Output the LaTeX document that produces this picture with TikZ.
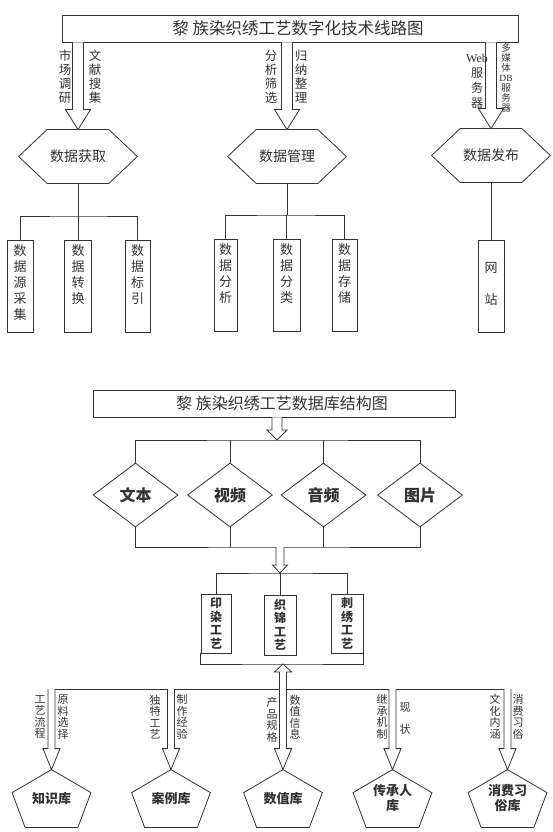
\documentclass[tikz,border=0pt]{standalone}
\usepackage{fontspec}
\setmainfont{Noto Sans CJK SC}
\newfontfamily\webfont{Liberation Serif}
\usetikzlibrary{shapes.geometric,calc}

\newcommand{\fatdown}[5]{%
  \draw[fill=white] let \p1=(#1), \p2=(#2) in
    (\x1-#3pt,\y1) -- (\x1-#3pt,{\y2+(#5)*1pt}) -- (\x1-#4pt,{\y2+(#5)*1pt})
    -- (\x2,\y2) -- (\x1+#4pt,{\y2+(#5)*1pt}) -- (\x1+#3pt,{\y2+(#5)*1pt})
    -- (\x1+#3pt,\y1);}
\newcommand{\coltext}[1]{\parbox[c][82pt][t]{14pt}{\centering #1}}

\begin{document}
\begin{tikzpicture}[x=1pt, y=-1pt, line width=0.8pt, color=black!80,
  titlebox/.style={draw, inner sep=0pt, minimum height=27pt, font=\fontsize{16.5}{18}\selectfont},
  hexnode/.style={inner sep=0pt, minimum width=118pt, minimum height=53pt, font=\fontsize{14}{16}\selectfont},
  colbox/.style={draw, inner sep=0pt, minimum height=92pt, font=\fontsize{13}{16}\selectfont},
  sidelabel/.style={align=center, inner sep=0pt, font=\fontsize{12.5}{14}\selectfont},
  medianode/.style={draw, diamond, aspect=1.33, inner sep=0pt, minimum width=85pt, minimum height=64pt, font=\bfseries\fontsize{16}{18}\selectfont},
  craftbox/.style={draw, align=center, inner sep=0pt, minimum height=59pt, font=\bfseries\fontsize{12}{13.5}\selectfont},
  pentnode/.style={align=center, inner sep=0pt, minimum width=78pt, minimum height=57pt, font=\bfseries\fontsize{13}{15}\selectfont},
  smalllabel/.style={align=center, inner sep=0pt, font=\fontsize{11}{11.5}\selectfont}]
  \fill[white] (0,0) rectangle (552,832);

  \node[titlebox, minimum width=456pt] (route) at (290,28.5) {\hspace*{16pt}黎 族染织绣工艺数字化技术线路图};
  \node[hexnode] (get) at (78,156.5) {数据获取};
  \node[hexnode] (manage) at (287,156.5) {数据管理};
  \node[hexnode] (publish) at (491,155.5) {数据发布};
  \foreach \h in {get,manage,publish}
    \draw (\h.west) -- ([xshift=28.5pt]\h.north west) -- ([xshift=-28.5pt]\h.north east)
      -- (\h.east) -- ([xshift=-28.5pt]\h.south east) -- ([xshift=28.5pt]\h.south west) -- cycle;
  \foreach \h in {get,manage,publish}
    \fatdown{route.south -| \h.north}{\h.north}{5.5}{12.5}{20};

  \node[sidelabel] (survey) at (65,77) {市\\场\\调\\研};
  \node[sidelabel] (literature) at (95,77) {文\\献\\搜\\集};
  \node[sidelabel] (screen) at (271,77) {分\\析\\筛\\选};
  \node[sidelabel] (induce) at (301,77) {归\\纳\\整\\理};
  \node[sidelabel, font=\fontsize{12}{15}\selectfont] (webserver) at (477,81) {{\webfont Web}\\服\\务\\器};
  \node[sidelabel, font=\fontsize{9.5}{10}\selectfont] (dbserver) at (506,78) {多\\媒\\体\\{\webfont DB}\\服\\务\\器};

  \node[colbox, minimum width=26pt] (collect) at (20,286) {\coltext{数\\据\\源\\采\\集}};
  \node[colbox, minimum width=27pt] (convert) at (78,286) {\coltext{数\\据\\转\\换}};
  \node[colbox, minimum width=25pt] (index) at (137.5,286) {\coltext{数\\据\\标\\引}};
  \node[colbox, minimum width=23pt] (analyse) at (225.5,285) {\coltext{数\\据\\分\\析}};
  \node[colbox, minimum width=27pt] (classify) at (286.5,285) {\coltext{数\\据\\分\\类}};
  \node[colbox, minimum width=25pt] (store) at (344.5,285) {\coltext{数\\据\\存\\储}};
  \node[colbox, minimum width=26pt] (website) at (491,286) {\coltext{\strut\\网\\\strut\\站}};

  \coordinate (getfork) at (78,216);
  \coordinate (managefork) at (287,215);
  \draw (get.south) -- (getfork);
  \draw (collect.north) |- (getfork) -| (index.north);
  \draw (convert.north) -- (convert.north |- getfork);
  \draw (manage.south) -- (managefork);
  \draw (analyse.north) |- (managefork) -| (store.north);
  \draw (classify.north) -- (classify.north |- managefork);
  \draw (publish.south) -- (website.north);

  \node[titlebox, minimum width=362pt, font=\fontsize{16}{18}\selectfont] (dbtitle) at (274,403.5) {\hspace*{16pt}黎 族染织绣工艺数据库结构图};
  \coordinate (mediafork) at (277,440);
  \node[medianode] (txt) at (135.5,495) {文本};
  \node[medianode] (video) at (230,495) {视频};
  \node[medianode] (audio) at (323.5,495) {音频};
  \node[medianode] (image) at (420,495) {图片};
  \draw (txt.north) |- (mediafork) -| (image.north);
  \foreach \m in {video,audio}
    \draw (\m.north) -- (\m.north |- mediafork);
  \fatdown{dbtitle.south -| mediafork}{mediafork}{5}{10}{10};
  \coordinate (mediajoin) at (280,547);
  \draw (txt.south) |- (mediajoin) -| (image.south);
  \foreach \m in {video,audio}
    \draw (\m.south) -- (\m.south |- mediajoin);
  \coordinate (craftfork) at (280,573);
  \fatdown{mediajoin}{craftfork}{4}{7.5}{8};

  \node[craftbox, minimum width=30pt] (printdye) at (216,623.5) {印\\染\\工\\艺};
  \node[craftbox, minimum width=32pt, minimum height=60pt] (brocade) at (280,625) {织\\锦\\工\\艺};
  \node[craftbox, minimum width=32pt] (embroider) at (347,623.5) {刺\\绣\\工\\艺};
  \draw (printdye.north) |- (craftfork) -| (embroider.north);
  \draw (brocade.north) -- (craftfork);
  \coordinate (craftjoin) at (283,664);
  \draw (printdye.south west) |- (craftjoin) -| (embroider.south east);

  \coordinate (lowbar) at (283,689);
  \node[pentnode] (knowledge) at (51.5,798.5) {知识库};
  \node[pentnode] (case) at (171,798.5) {案例库};
  \node[pentnode] (value) at (283,798.5) {数值库};
  \node[pentnode] (heritage) at (392.5,798.5) {传承人\\库};
  \node[pentnode] (custom) at (507.5,798.5) {消费习\\俗库};
  \foreach \pent in {knowledge,case,value,heritage,custom}
    \draw (\pent.north) -- ([yshift=-23pt]\pent.north east) -- ([xshift=-13pt]\pent.south east)
      -- ([xshift=13pt]\pent.south west) -- ([yshift=-23pt]\pent.north west) -- cycle;
  \draw ($(knowledge.north |- lowbar)+(-3.5,0)$) -- ($(custom.north |- lowbar)+(3.5,0)$);
  \fatdown{lowbar}{craftjoin}{3.5}{8.5}{-8};
  \foreach \pent in {knowledge,case,value,heritage,custom}
    \fatdown{lowbar -| \pent.north}{\pent.north}{3.5}{8.5}{21};

  \node[smalllabel] (process) at (40,717) {工\\艺\\流\\程};
  \node[smalllabel] (material) at (63,717) {原\\料\\选\\择};
  \node[smalllabel] (unique) at (155,717) {独\\特\\工\\艺};
  \node[smalllabel] (experience) at (182,717) {制\\作\\经\\验};
  \node[smalllabel] (spec) at (272,720) {产\\品\\规\\格};
  \node[smalllabel] (numinfo) at (295,717) {数\\值\\信\\息};
  \node[smalllabel] (mechanism) at (382,717) {继\\承\\机\\制};
  \node[smalllabel] (status) at (405,719) {现\\[10.5pt]状};
  \node[smalllabel] (meaning) at (495,717) {文\\化\\内\\涵};
  \node[smalllabel] (habit) at (518,717) {消\\费\\习\\俗};
\end{tikzpicture}
\end{document}
